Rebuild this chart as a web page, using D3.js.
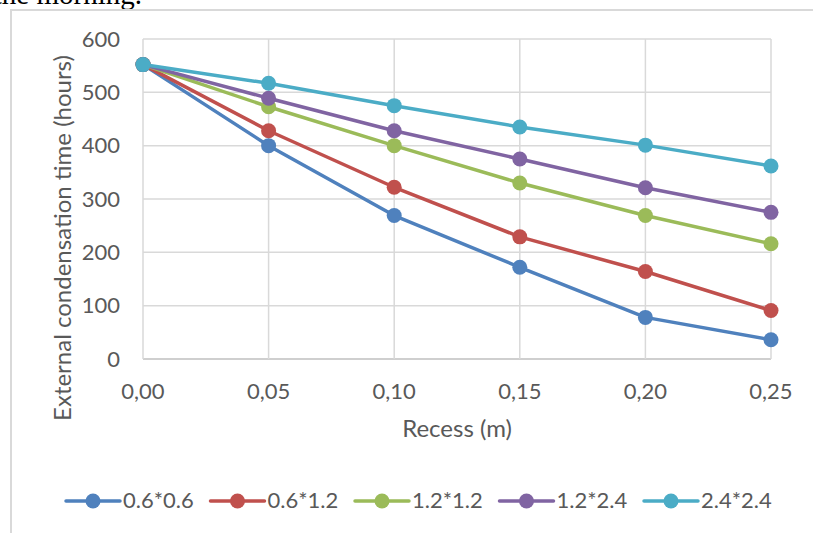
<!DOCTYPE html>
<html>
<head>
<meta charset="utf-8">
<script src="https://cdn.jsdelivr.net/npm/d3@7"></script>
<style>
  html, body { margin: 0; padding: 0; background: #fff; overflow: hidden; }
  svg { display: block; }
  text { font-family: Lato, "Open Sans", sans-serif; fill: #595959; }
</style>
</head>
<body>
<svg id="chart" width="813" height="533"></svg>
<script>
// data
var recess = [0, 0.05, 0.10, 0.15, 0.20, 0.25];
var xTicks = ["0,00", "0,05", "0,10", "0,15", "0,20", "0,25"];
var yTicks = [0, 100, 200, 300, 400, 500, 600];
var seriesNames = ["0.6*0.6", "0.6*1.2", "1.2*1.2", "1.2*2.4", "2.4*2.4"];
var s06x06 = [552, 400, 269, 172, 78, 36];
var s06x12 = [552, 428, 322, 229, 164, 91];
var s12x12 = [552, 473, 400, 330, 269, 216];
var s12x24 = [552, 489, 428, 375, 321, 275];
var s24x24 = [552, 517, 475, 435, 401, 362];
var colors = ["#4F81BD", "#C0504D", "#9BBB59", "#8064A2", "#4BACC6"];

var allSeries = [s06x06, s06x12, s12x12, s12x24, s24x24];

var svg = d3.select("#chart");

// bit of page text cut off above the chart
svg.append("text")
  .attr("x", 142).attr("y", 4)
  .attr("text-anchor", "end")
  .style("font-family", "'Liberation Serif', serif")
  .style("font-size", "29px")
  .style("fill", "#000")
  .text("the morning.");

// chart area border
svg.append("rect")
  .attr("x", 11).attr("y", 10)
  .attr("width", 820).attr("height", 540)
  .attr("fill", "none")
  .attr("stroke", "#d9d9d9")
  .attr("stroke-width", 2);

var x = d3.scaleLinear().domain([0, 0.25]).range([143, 771]);
var y = d3.scaleLinear().domain([0, 600]).range([359, 39]);

// horizontal gridlines
svg.append("g")
  .selectAll("line")
  .data(yTicks)
  .join("line")
  .attr("x1", x(0)).attr("x2", x(0.25))
  .attr("y1", d => y(d)).attr("y2", d => y(d))
  .attr("stroke", d => d === 0 ? "#bfbfbf" : "#d9d9d9")
  .attr("stroke-width", 1.5);

// vertical gridlines
svg.append("g")
  .selectAll("line")
  .data(recess)
  .join("line")
  .attr("x1", d => x(d)).attr("x2", d => x(d))
  .attr("y1", y(600)).attr("y2", y(0))
  .attr("stroke", "#d9d9d9")
  .attr("stroke-width", 1.5);

// y tick labels
svg.append("g")
  .selectAll("text")
  .data(yTicks)
  .join("text")
  .attr("x", 120)
  .attr("y", d => y(d) + 7.5)
  .attr("text-anchor", "end")
  .style("font-size", "22px")
  .text(d => d);

// x tick labels
svg.append("g")
  .selectAll("text")
  .data(recess)
  .join("text")
  .attr("x", d => x(d))
  .attr("y", 398.5)
  .attr("text-anchor", "middle")
  .style("font-size", "22px")
  .text((d, i) => xTicks[i]);

// axis titles
svg.append("text")
  .attr("x", 457).attr("y", 437)
  .attr("text-anchor", "middle")
  .style("font-size", "24px")
  .text("Recess (m)");

svg.append("text")
  .attr("transform", "translate(71,238) rotate(-90)")
  .attr("text-anchor", "middle")
  .style("font-size", "24px")
  .text("External condensation time (hours)");

// lines and markers
var line = d3.line()
  .x((d, i) => x(recess[i]))
  .y(d => y(d));

allSeries.forEach(function(vals, k) {
  svg.append("path")
    .datum(vals)
    .attr("fill", "none")
    .attr("stroke", colors[k])
    .attr("stroke-width", 3.5)
    .attr("stroke-linejoin", "round")
    .attr("d", line);
  svg.append("g")
    .selectAll("circle")
    .data(vals)
    .join("circle")
    .attr("cx", (d, i) => x(recess[i]))
    .attr("cy", d => y(d))
    .attr("r", 7.5)
    .attr("fill", colors[k]);
});

// legend
var legend = svg.append("g");
seriesNames.forEach(function(name, k) {
  var lx = 66 + k * 144.5;
  var ly = 501;
  legend.append("line")
    .attr("x1", lx).attr("x2", lx + 54)
    .attr("y1", ly).attr("y2", ly)
    .attr("stroke", colors[k]).attr("stroke-width", 3.5)
    .attr("stroke-linecap", "round");
  legend.append("circle")
    .attr("cx", lx + 27).attr("cy", ly).attr("r", 7.5)
    .attr("fill", colors[k]);
  legend.append("text")
    .attr("x", lx + 57).attr("y", ly + 7)
    .style("font-size", "22px")
    .text(name);
});
</script>
</body>
</html>
